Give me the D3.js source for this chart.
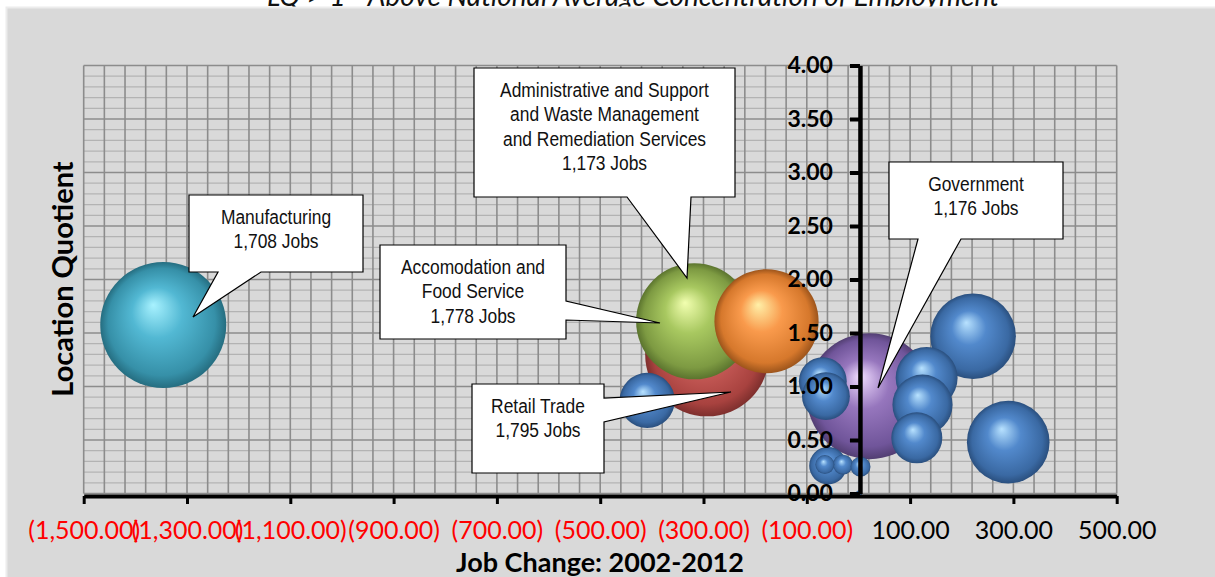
<!DOCTYPE html>
<html>
<head>
<meta charset="utf-8">
<script src="https://cdn.jsdelivr.net/npm/d3@7"></script>
<style>
  html, body { margin: 0; padding: 0; background: #fff; }
  svg { display: block; }
</style>
</head>
<body>
<svg id="chart" width="1215" height="577"></svg>
<script>
const WIDTH = 1215;
const HEIGHT = 577;
const PLOT = { left: 83.7, right: 1116.7, top: 65.5, bottom: 493.5 };

// one entry per bubble
const industries = [
  "Manufacturing", "Retail Trade", "Administrative and Support and Waste Management and Remediation Services",
  "Accomodation and Food Service", "Government",
  "Other 1", "Other 2", "Other 3", "Other 4", "Other 5", "Other 6", "Other 7",
  "Other 8", "Other 9", "Other 10", "Other 11", "Other 12", "Other 13"
];
const seriesOf = [4, 1, 2, 5, 3, 0, 0, 0, 0, 0, 0, 0, 0, 0, 0, 0, 0, 0];
const jobChange = [-1346, -293, -318, -178, 22, 222, 290, 132, 124, 113, -409, -69, -63, -59, -65, -30, 4, 1];
const locationQuotient = [1.575, 1.30, 1.61, 1.61, 0.91, 1.47, 0.48, 1.08, 0.83, 0.52, 0.87, 1.05, 0.91, 0.26, 0.27, 0.27, 0.25, 0.0];
const bubbleSize = [1800, 1740, 1530, 1230, 1800, 830, 775, 435, 410, 295, 345, 260, 260, 160, 41, 45, 45, 4];

const xTicks = d3.range(-1500, 501, 200);
const yTicks = d3.range(0, 4.001, 0.5);

// callouts: text lines, box, pointer
const callouts = [
  { lines: ["Manufacturing", "1,708 Jobs"], box: [189, 195, 363, 272], side: "bottom", base: [218, 261], tip: [193, 317] },
  { lines: ["Administrative and Support", "and Waste Management", "and Remediation Services", "1,173 Jobs"], box: [474, 68, 735, 197], side: "bottom", base: [627, 691], tip: [687, 278] },
  { lines: ["Accomodation and", "Food Service", "1,778 Jobs"], box: [380, 245, 566, 339], side: "right", base: [301, 320], tip: [660, 323] },
  { lines: ["Retail Trade", "1,795 Jobs"], box: [472, 384, 604, 473], side: "right", base: [398, 422], tip: [731, 392] },
  { lines: ["Government", "1,176 Jobs"], box: [889, 162, 1063, 239], side: "bottom", base: [918, 961], tip: [878, 388] }
];

const sphereColors = [
  { hi: "#b8e2ff", base: "#5289cc", dark: "#3a69a3", edge: "#2a4f7e" }, // blue
  { hi: "#f7b4b0", base: "#cc5f5b", dark: "#a8423f", edge: "#7e2f2d" }, // red
  { hi: "#f2ffb0", base: "#a8c860", dark: "#7d9a42", edge: "#5b742e" }, // green
  { hi: "#f0dcff", base: "#9676bd", dark: "#70559a", edge: "#523e72" }, // purple
  { hi: "#a8f2ff", base: "#52b8d3", dark: "#3690a8", edge: "#256d80" }, // teal
  { hi: "#fff0a8", base: "#f99a4c", dark: "#d6782c", edge: "#9c541b" }  // orange
];

const svg = d3.select("#chart");

const x = d3.scaleLinear().domain([-1500, 500]).range([PLOT.left, PLOT.right]);
const y = d3.scaleLinear().domain([0, 4]).range([PLOT.bottom, PLOT.top]);
const r = d3.scaleSqrt().domain([0, 1800]).range([0, 63]);

// title, mostly cut off by the top of the page
svg.append("text")
  .attr("x", 633)
  .attr("y", 6)
  .attr("text-anchor", "middle")
  .attr("font-family", "Lato, sans-serif")
  .attr("font-style", "italic")
  .attr("font-size", 28)
  .attr("fill", "#111")
  .text("LQ > 1 - Above National Average Concentration of Employment");

// chart panel
svg.append("rect")
  .attr("x", 6.5).attr("y", 7.5)
  .attr("width", WIDTH).attr("height", HEIGHT)
  .attr("fill", "#d9d9d9")
  .attr("stroke", "#ececec")
  .attr("stroke-width", 2);

// gradients
const defs = svg.append("defs");
sphereColors.forEach((c, i) => {
  const g = defs.append("radialGradient")
    .attr("id", "sphere" + i)
    .attr("cx", "50%").attr("cy", "50%").attr("r", "50%")
    .attr("fx", "42%").attr("fy", "34%");
  g.append("stop").attr("offset", "0%").attr("stop-color", c.hi);
  g.append("stop").attr("offset", "40%").attr("stop-color", c.base);
  g.append("stop").attr("offset", "85%").attr("stop-color", c.dark);
  g.append("stop").attr("offset", "100%").attr("stop-color", c.edge);
});

// grid
const grid = svg.append("g");
grid.selectAll("line.minor")
  .data(d3.range(0, 4.001, 0.1).filter(v => Math.abs(v * 2 - Math.round(v * 2)) > 1e-6))
  .join("line")
  .attr("class", "minor")
  .attr("x1", PLOT.left).attr("x2", PLOT.right)
  .attr("y1", d => y(d)).attr("y2", d => y(d))
  .attr("stroke", "#b3b3b3").attr("stroke-width", 1.2);
grid.selectAll("line.vert")
  .data(d3.range(-1500, 501, 40))
  .join("line")
  .attr("class", "vert")
  .attr("x1", d => x(d)).attr("x2", d => x(d))
  .attr("y1", PLOT.top).attr("y2", PLOT.bottom)
  .attr("stroke", "#8c8c8c").attr("stroke-width", 1.6);
grid.selectAll("line.major")
  .data(yTicks)
  .join("line")
  .attr("class", "major")
  .attr("x1", PLOT.left).attr("x2", PLOT.right)
  .attr("y1", d => y(d)).attr("y2", d => y(d))
  .attr("stroke", "#8c8c8c").attr("stroke-width", 1.6);

// bubbles, biggest first so small ones sit on top
const bubbles = industries.map((name, i) => ({
  name, series: seriesOf[i], x: jobChange[i], y: locationQuotient[i], size: bubbleSize[i]
})).sort((a, b) => b.size - a.size);

svg.append("g")
  .selectAll("circle")
  .data(bubbles)
  .join("circle")
  .attr("cx", d => x(d.x))
  .attr("cy", d => y(d.y))
  .attr("r", d => r(d.size))
  .attr("fill", d => `url(#sphere${d.series})`);

// x axis
const fmt = d3.format(",.2f");
svg.append("g")
  .attr("transform", `translate(0,${y(0) + 2.5})`)
  .call(d3.axisBottom(x).tickValues(xTicks).tickSize(8).tickSizeOuter(0).tickPadding(17)
    .tickFormat(d => d < 0 ? `(${fmt(-d)})` : fmt(d)))
  .call(g => g.select(".domain").attr("stroke", "#000").attr("stroke-width", 4))
  .call(g => g.selectAll(".tick line").attr("stroke", "#000").attr("stroke-width", 3))
  .call(g => g.selectAll(".tick text")
    .attr("font-family", "Lato, sans-serif")
    .attr("font-size", 25)
    .attr("fill", d => d < 0 ? "#ff0000" : "#000"));

// y axis
svg.append("g")
  .attr("transform", `translate(${x(0) + 1.5},0)`)
  .call(d3.axisLeft(y).tickValues(yTicks).tickSize(10).tickSizeOuter(0).tickPadding(17)
    .tickFormat(d3.format(".2f")))
  .call(g => g.select(".domain").attr("stroke", "#000").attr("stroke-width", 4.5))
  .call(g => g.selectAll(".tick line").attr("stroke", "#000").attr("stroke-width", 4))
  .call(g => g.selectAll(".tick text")
    .attr("font-family", "Lato, sans-serif")
    .attr("font-weight", "bold")
    .attr("font-size", 23)
    .attr("fill", "#000"));

// axis titles
svg.append("text")
  .attr("x", 600).attr("y", 572)
  .attr("text-anchor", "middle")
  .attr("font-family", "Lato, sans-serif")
  .attr("font-weight", "bold")
  .attr("font-size", 27)
  .text("Job Change: 2002-2012");

svg.append("text")
  .attr("transform", "translate(73,279) rotate(-90)")
  .attr("text-anchor", "middle")
  .attr("font-family", "Lato, sans-serif")
  .attr("font-weight", "bold")
  .attr("font-size", 29)
  .text("Location Quotient");

// callouts
function calloutPath(c) {
  const [x0, y0, x1, y1] = c.box;
  const [b1, b2] = c.base;
  const [tx, ty] = c.tip;
  if (c.side === "bottom") {
    return `M${x0},${y0}H${x1}V${y1}H${b2}L${tx},${ty}L${b1},${y1}H${x0}Z`;
  }
  return `M${x0},${y0}H${x1}V${b1}L${tx},${ty}L${x1},${b2}V${y1}H${x0}Z`;
}

const cg = svg.append("g").selectAll("g").data(callouts).join("g");
cg.append("path")
  .attr("d", calloutPath)
  .attr("fill", "#fff")
  .attr("stroke", "#000")
  .attr("stroke-width", 1.2);
cg.each(function (c) {
  const cx = (c.box[0] + c.box[2]) / 2;
  // condensed look: squeeze the text horizontally around the box centre
  const t = d3.select(this).append("text")
    .attr("transform", `translate(${cx},0) scale(0.87,1)`)
    .attr("text-anchor", "middle")
    .attr("font-family", "'Liberation Sans Narrow', 'Arial Narrow', 'Liberation Sans', sans-serif")
    .attr("font-size", 20)
    .attr("fill", "#111");
  c.lines.forEach((line, i) => {
    t.append("tspan").attr("x", 0).attr("y", c.box[1] + 29 + i * 24.5).text(line);
  });
});
</script>
</body>
</html>
